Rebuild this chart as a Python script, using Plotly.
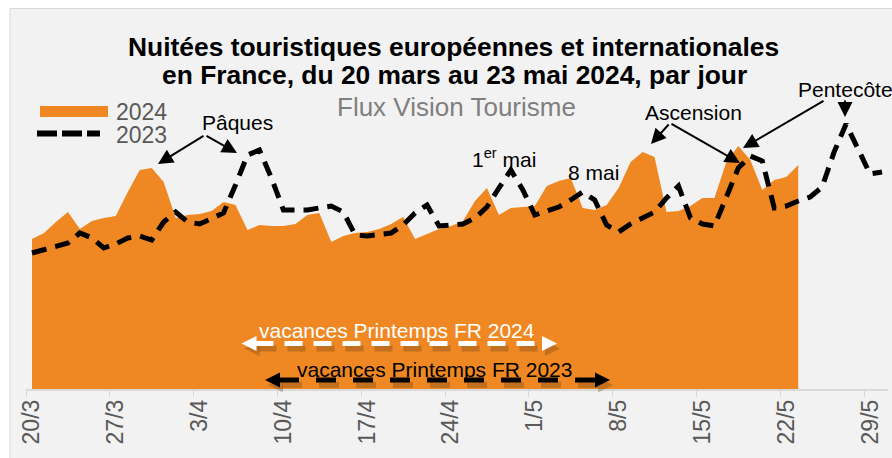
import pandas as pd
import plotly.graph_objects as go

# ---------------- data ----------------
jours = [f"{d.day}/{d.month}" for d in pd.date_range("2024-03-20", "2024-05-30")]

# Nuitées (unités relatives, estimées d'après le graphique)
nuitees_2024 = [1500, 1560, 1670, 1770, 1600, 1680, 1710, 1730, 1970, 2190,
                2210, 2070, 1710, 1740, 1750, 1780, 1870, 1840, 1590, 1640,
                1630, 1630, 1650, 1740, 1760, 1470, 1530, 1560, 1570, 1600,
                1650, 1720, 1500, 1550, 1600, 1630, 1680, 1880, 2010, 1740,
                1810, 1820, 1830, 2030, 2080, 2110, 1810, 1790, 1840, 2010,
                2270, 2370, 2320, 1770, 1780, 1830, 1910, 1910, 2270, 2430,
                2290, 1990, 2090, 2120, 2240]

nuitees_2023 = [1360, 1390, 1420, 1460, 1560, 1510, 1410, 1450, 1510, 1530,
                1490, 1670, 1770, 1670, 1650, 1700, 1760, 2040, 2340, 2390,
                2110, 1790, 1790, 1790, 1810, 1830, 1770, 1540, 1530, 1540,
                1560, 1640, 1760, 1840, 1630, 1640, 1650, 1710, 1820, 2010,
                2190, 1990, 1740, 1780, 1820, 1890, 1970, 1890, 1640, 1570,
                1650, 1710, 1770, 1910, 2030, 1710, 1650, 1630, 1930, 2210,
                2330, 2280, 1810, 1830, 1880, 1920, 2020, 2370, 2650, 2410,
                2150, 2170]

series_names = ["2024", "2023"]
titre = ["Nuitées touristiques européennes et internationales",
         "en France, du 20 mars au 23 mai 2024, par jour"]
sous_titre = "Flux Vision Tourisme"

# ---------------- style ----------------
ORANGE = "#EF8822"
GRAY_TXT = "#595959"
FONT = "Liberation Sans, Arial, sans-serif"

W_FIG, H_FIG = 892, 458
L, R, T, B = 26, 4, 89, 69
PW, PH = W_FIG - L - R, H_FIG - T - B


def px(x):
    return (x - L) / PW


def py(y):
    return (T + PH - y) / PH


fig = go.Figure()

fig.add_trace(go.Scatter(
    x=jours[:len(nuitees_2024)], y=nuitees_2024, name=series_names[0],
    mode="none", fill="tozeroy", fillcolor=ORANGE, showlegend=False,
))
fig.add_trace(go.Scatter(
    x=jours[:len(nuitees_2023)], y=nuitees_2023, name=series_names[1],
    mode="lines", line=dict(color="black", width=5, dash="15px,9px"),
    showlegend=False,
))

shapes = []
# chart-area background with border
shapes.append(dict(type="rect", xref="paper", yref="paper", layer="below",
                   x0=px(10), x1=px(900), y0=py(8.5), y1=py(470),
                   fillcolor="#F2F2F2", line=dict(color="#D9D9D9", width=1)))

# legend symbols
shapes.append(dict(type="rect", xref="paper", yref="paper",
                   x0=px(40), x1=px(108), y0=py(117), y1=py(106),
                   fillcolor=ORANGE, line=dict(width=0)))
shapes.append(dict(type="line", xref="paper", yref="paper",
                   x0=px(37), x1=px(100), y0=py(133.5), y1=py(133.5),
                   line=dict(color="black", width=6, dash="20px,5px")))


def tri(xtip, ytip, direction, length=15, half=7.5, color="white"):
    xb = xtip - direction * length
    path = (f"M{px(xtip)},{py(ytip)} L{px(xb)},{py(ytip - half)} "
            f"L{px(xb)},{py(ytip + half)} Z")
    return dict(type="path", xref="paper", yref="paper", path=path,
                fillcolor=color, line=dict(width=0))


def vac_arrow(x0, x1, y, color, dash):
    out = []
    sh = "rgba(60,40,20,0.25)"
    # shadow
    out.append(dict(type="line", xref="paper", yref="paper",
                    x0=px(x0 + 14 + 3), x1=px(x1 - 14 + 3), y0=py(y + 5), y1=py(y + 5),
                    line=dict(color=sh, width=6, dash=dash)))
    out.append(tri(x0 + 3, y + 5, -1, color=sh))
    out.append(tri(x1 + 3, y + 5, 1, color=sh))
    out.append(dict(type="line", xref="paper", yref="paper",
                    x0=px(x0 + 14), x1=px(x1 - 14), y0=py(y), y1=py(y),
                    line=dict(color=color, width=5, dash=dash)))
    out.append(tri(x0, y, -1, color=color))
    out.append(tri(x1, y, 1, color=color))
    return out


shapes += vac_arrow(241.5, 557, 343.5, "white", "18px,11px")
shapes += vac_arrow(265, 610, 380, "black", "20px,17px")

ann = []


def txt(x, y, s, size, color="black", xanchor="center", bold=False):
    ann.append(dict(xref="paper", yref="paper", x=px(x), y=py(y), text=s,
                    showarrow=False, xanchor=xanchor, yanchor="middle",
                    font=dict(family=FONT, size=size, color=color,
                              weight="bold" if bold else "normal")))


def arrow(tail, tip):
    ann.append(dict(xref="paper", yref="paper", x=px(tip[0]), y=py(tip[1]),
                    ax=tail[0] - tip[0], ay=tail[1] - tip[1], text="",
                    showarrow=True, arrowhead=2, arrowsize=1.5, arrowwidth=2,
                    arrowcolor="black"))


# titles
txt(453, 47, titre[0], 26.4, bold=True)
txt(454, 75, titre[1], 26.4, bold=True)
txt(456, 107, sous_titre, 26, color="#7F7F7F")

# legend labels
txt(114, 112, series_names[0], 23, color=GRAY_TXT, xanchor="left")
txt(114, 135, series_names[1], 23, color=GRAY_TXT, xanchor="left")

# event labels and arrows
txt(237, 123, "Pâques", 21)
arrow((205, 135), (158, 164))
arrow((205, 135), (237, 153))

txt(693, 112, "Ascension", 21)
arrow((670, 123), (651, 144))
arrow((670, 123), (740, 163))

txt(796, 90, "Pentecôte", 21, xanchor="left")
arrow((825, 100), (743, 148))
arrow((845, 99), (845, 117))

txt(504, 158, "1<sup>er</sup> mai", 21)
txt(593, 172, "8 mai", 21)

txt(397, 330, "vacances Printemps FR 2024", 21, color="white")
txt(434, 369, "vacances Printemps FR 2023", 21, color="black")

fig.update_layout(
    width=W_FIG, height=H_FIG,
    margin=dict(l=L, r=R, t=T, b=B, autoexpand=False),
    paper_bgcolor="white", plot_bgcolor="rgba(0,0,0,0)",
    shapes=shapes, annotations=ann, showlegend=False,
    font=dict(family=FONT),
)
fig.update_xaxes(
    type="category", categoryorder="array", categoryarray=jours,
    range=[-0.5, len(jours) - 0.5],
    tickmode="linear", tick0=0, dtick=7, tickson="boundaries",
    ticks="outside", ticklen=6, tickcolor="#D9D9D9", tickwidth=1,
    showline=True, linecolor="#D9D9D9", linewidth=1.5,
    showgrid=False, zeroline=False, tickangle=-90,
    tickfont=dict(family=FONT, size=23, color=GRAY_TXT),
)
fig.update_yaxes(range=[0, 3000], visible=False, showgrid=False, zeroline=False)

fig.write_html("out.html", config={"displayModeBar": False, "staticPlot": True},
               post_script="document.body.style.margin='0';document.body.style.overflow='hidden';")
